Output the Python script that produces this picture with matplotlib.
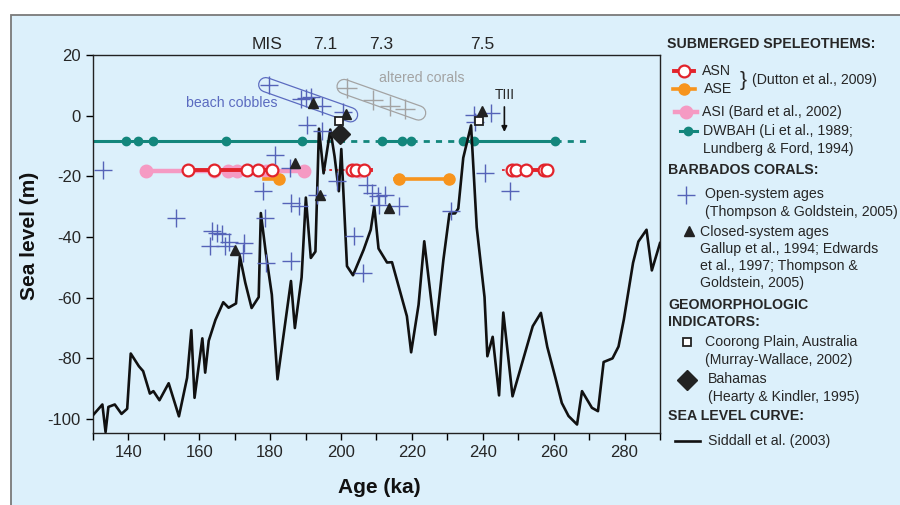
import matplotlib
matplotlib.use('Agg')
import matplotlib.pyplot as plt
from matplotlib.patches import Rectangle
from matplotlib.transforms import blended_transform_factory

plt.rcParams['font.family'] = ['Liberation Sans', 'DejaVu Sans']
plt.rcParams['axes.unicode_minus'] = False

# ── Daten ────────────────────────────────────────────────────
# Siddall et al. (2003) sea level curve
siddall_age = [130, 132.7, 133.6, 134.4, 136.2, 138.1, 139.7, 140.7, 143.0, 144.2,
               146.1, 147.1, 148.8, 151.4, 154.3, 156.6, 157.8, 158.7, 160.9, 161.7,
               162.7, 164.6, 166.8, 168.3, 170.4, 171.5, 173.0, 174.8, 176.8, 177.4,
               178.8, 180.5, 182.1, 185.9, 187.0, 188.9, 190.1, 191.5, 192.8, 193.8,
               195.1, 197.0, 198.2, 199.4, 200.1, 201.7, 203.4, 206.4, 208.4, 209.4,
               210.6, 213.0, 214.4, 218.6, 219.8, 221.9, 223.5, 226.6, 228.9, 230.6,
               232.2, 233.1, 234.5, 236.7, 238.3, 240.5, 241.3, 242.8, 244.6, 245.8,
               248.4, 254.1, 256.4, 258.2, 260.5, 262.3, 264.2, 266.6, 268.0, 270.8,
               272.5, 274.1, 276.6, 278.3, 279.8, 282.4, 283.9, 286.2, 287.7, 290.0]
siddall_sl = [-98.8, -95.2, -104.3, -96.0, -95.2, -98.3, -96.6, -78.4, -82.6, -84.2,
              -91.6, -90.8, -93.8, -88.2, -99.1, -86.4, -70.7, -93.0, -73.4, -84.7,
              -74.2, -67.3, -61.5, -63.3, -61.9, -46.4, -55.0, -63.4, -59.8, -32.1,
              -45.2, -59.0, -86.9, -54.5, -70.0, -53.3, -27.0, -46.9, -44.8, -4.3,
              -19.0, -4.6, -13.4, -24.9, -11.0, -49.6, -52.6, -44.2, -37.6, -29.9,
              -43.8, -48.4, -48.3, -66.1, -78.0, -62.3, -41.4, -72.2, -47.5, -32.3,
              -32.2, -30.6, -13.9, -3.2, -36.8, -59.8, -79.3, -72.9, -92.2, -64.9,
              -92.5, -69.4, -65.0, -76.2, -86.4, -94.7, -99.0, -101.8, -90.8, -96.3,
              -97.4, -81.2, -80.0, -76.1, -67.2, -48.5, -41.5, -37.6, -51.0, -42.0]

# DWBAH (Li et al., 1989; Lundberg & Ford, 1994)
dw_age = [139.3, 142.8, 147.0, 167.5, 188.9, 211.7, 217.3, 219.9, 234.3, 237.6, 260.4]
dw_sl = -8.5
dw_solid = [(130.0, 192.5), (211.7, 219.9), (234.3, 260.4)]
dw_dashed = [(192.5, 211.7), (219.9, 234.3), (260.4, 269.3)]

# ASI (Bard et al., 2002)
asi_age = [145.0, 164.3, 168.1, 170.6, 178.8, 189.5, 205.0]
asi_sl = -18.3
asi_span = (145.0, 189.5)

# ASN (Dutton et al., 2009)
asn_age = [156.9, 164.1, 173.5, 176.5, 180.5, 203.0, 204.2, 206.6,
           248.3, 249.5, 252.3, 257.2, 258.2]
asn_sl = -18.0
asn_solid = [(156.9, 180.5), (202.5, 208.4), (247.5, 259.6)]
asn_dotted = [(194.8, 202.5), (245.4, 247.5)]

# ASE (Dutton et al., 2009)
ase_age = [182.5, 216.3, 230.5]
ase_sl = -20.9
ase_spans = [(178.4, 183.0), (215.2, 231.6)]

# Barbados corals, open-system ages
open_age = [133.0, 153.4, 163.6, 165.0, 166.4, 163.0, 167.3, 168.4, 172.6, 172.3,
            178.7, 178.1, 181.5, 178.8, 186.0, 186.0, 188.3, 185.5, 190.3, 194.7,
            179.8, 188.7, 190.1, 191.5, 194.6, 200.6, 193.3, 199.0, 203.6, 206.1,
            207.4, 208.8, 210.5, 212.3, 210.6, 216.3, 231.1, 237.6, 237.8, 242.3,
            240.6, 247.6]
open_sl = [-17.8, -33.8, -38.0, -38.7, -39.0, -42.9, -42.8, -41.8, -42.0, -45.4,
           -33.7, -24.8, -12.9, -48.6, -48.0, -28.9, -29.8, -17.2, -3.0, -4.9,
           10.2, 5.5, 5.8, 6.2, 3.3, 1.1, -26.0, -21.6, -39.8, -51.9,
           -22.7, -25.5, -26.5, -26.0, -29.3, -29.9, -31.5, 0.3, -2.0, 0.9,
           -18.8, -24.9]

# altered corals
alt_age = [201.7, 209.1, 213.8, 218.0]
alt_sl = [9.1, 5.3, 3.1, 2.3]

# closed-system ages
closed_age = [170.0, 187.0, 192.0, 194.1, 201.3, 213.5, 239.7]
closed_sl = [-44.3, -15.5, 4.3, -26.3, 0.5, -30.5, 1.6]

# Coorong Plain / Bahamas
coorong_age = [199.4, 239.0]
coorong_sl = [-1.9, -1.7]
bahamas_age = [199.7]
bahamas_sl = [-6.0]

# MIS labels
mis_labels = ['7.1', '7.3', '7.5']
mis_ages = [195.6, 211.3, 239.9]

# Gruppen-Rahmen (Enden: Alter, Meeresspiegel)
cobbles_ends = ([178.8, 202.7], [10.2, 0.3])
altered_ends = ([200.9, 221.9], [9.6, 0.9])

termination_age = 246.1

# ── Farben ───────────────────────────────────────────────────
BG = '#dcf0fb'
TEAL = '#13867c'
RED = '#e2232b'
ORANGE = '#f7941d'
PINK = '#f59ac3'
BLUE = '#5563b8'
GREY = '#a3a3a3'
TXT = '#262626'

# ── Plot ─────────────────────────────────────────────────────
fig = plt.figure(figsize=(9, 5.05), dpi=100)
fig.patch.set_facecolor('white')
fig.add_artist(Rectangle((11 / 900, -0.05), 1.0, 1 - 15 / 505 + 0.05,
                         transform=fig.transFigure, facecolor=BG,
                         edgecolor='#7a7a7a', lw=1.3, zorder=0))

ax = fig.add_axes([92.8 / 900, 1 - 432.7 / 505, 567.2 / 900, 377.7 / 505])
ax.set_facecolor(BG)
ax.set_xlim(130, 290)
ax.set_ylim(-104.5, 20)


def stadium(ends, color):
    ax.plot(ends[0], ends[1], color=color, lw=11.2, solid_capstyle='round', zorder=1)
    ax.plot(ends[0], ends[1], color=BG, lw=9.4, solid_capstyle='round', zorder=1.1)


stadium(cobbles_ends, '#5b6bc0')
stadium(altered_ends, GREY)

# DWBAH
for a0, a1 in dw_solid:
    ax.plot([a0, a1], [dw_sl, dw_sl], color=TEAL, lw=2.2, zorder=2)
for a0, a1 in dw_dashed:
    ax.plot([a0, a1], [dw_sl, dw_sl], color=TEAL, lw=2.0, ls=(0, (2.2, 2.2)), zorder=2)
ax.plot(dw_age, [dw_sl] * len(dw_age), 'o', color=TEAL, ms=6, zorder=2.1)

# ASI
ax.plot(asi_span, [asi_sl, asi_sl], color=PINK, lw=3.2, zorder=2)
ax.plot(asi_age, [asi_sl] * len(asi_age), 'o', color=PINK, ms=9, zorder=2.1)

# ASE
for a0, a1 in ase_spans:
    ax.plot([a0, a1], [ase_sl, ase_sl], color=ORANGE, lw=2.6, zorder=2.2)
ax.plot(ase_age, [ase_sl] * len(ase_age), 'o', color=ORANGE, ms=8, zorder=2.3)

# ASN
for a0, a1 in asn_solid:
    ax.plot([a0, a1], [asn_sl, asn_sl], color=RED, lw=2.8, zorder=2.4)
for a0, a1 in asn_dotted:
    ax.plot([a0, a1], [asn_sl, asn_sl], color=RED, lw=1.3, ls=(0, (1.5, 2.0)), zorder=2.4)
ax.plot(asn_age, [asn_sl] * len(asn_age), 'o', mfc='white', mec=RED, mew=1.6,
        ms=8.5, zorder=2.5)

# Siddall curve
ax.plot(siddall_age, siddall_sl, color='#111111', lw=1.9, zorder=3)

# corals
ax.plot(open_age, open_sl, '+', color=BLUE, ms=12.5, mew=1.0, zorder=4)
ax.plot(alt_age, alt_sl, '+', color=GREY, ms=14, mew=1.0, zorder=4)
ax.plot(closed_age, closed_sl, '^', color='#222222', ms=7, zorder=5)
ax.plot(coorong_age, coorong_sl, 's', mfc='white', mec='#222222', mew=1.3, ms=6, zorder=5)
ax.plot(bahamas_age, bahamas_sl, 'D', color='#222222', ms=10, zorder=5)

# Beschriftungen im Plot
ax.text(169.2, 4.2, 'beach cobbles', color='#5b6bc0', fontsize=10.2,
        ha='center', va='center')
ax.text(222.8, 12.4, 'altered corals', color=GREY, fontsize=10.2,
        ha='center', va='center')
ax.text(termination_age, 6.8, 'TIII', color=TXT, fontsize=10, ha='center', va='center')
ax.annotate('', xy=(termination_age, -6.3), xytext=(termination_age, 3.8),
            arrowprops=dict(arrowstyle='-|>', color='#111111', lw=1.2, mutation_scale=8))

trans = blended_transform_factory(ax.transData, ax.transAxes)
ax.text(179.2, 1.028, 'MIS', transform=trans, fontsize=12.5, color=TXT,
        ha='center', va='center')
for lab, age in zip(mis_labels, mis_ages):
    ax.text(age, 1.028, lab, transform=trans, fontsize=12.5, color=TXT,
            ha='center', va='center')

# Achsen
ax.set_xticks(range(140, 281, 20))
ax.set_xticks(range(130, 291, 10), minor=True)
ax.set_yticks(range(-100, 21, 20))
ax.tick_params(which='both', direction='out', length=5, width=1,
               labelsize=12, labelcolor=TXT)
for s in ax.spines.values():
    s.set_linewidth(1.0)
    s.set_color('#222222')

ax.set_ylabel('Sea level (m)', fontsize=15, fontweight='bold', color='#111111')
ax.yaxis.set_label_coords(-0.095, 0.52)
ax.set_xlabel('Age (ka)', fontsize=15, fontweight='bold', color='#111111')
ax.xaxis.set_label_coords(0.505, -0.144)
ax.xaxis.label.set_va('center')

# ── Legende (Pixelkoordinaten) ───────────────────────────────
lg = fig.add_axes([0, 0, 1, 1], zorder=10)
lg.set_xlim(0, 900)
lg.set_ylim(505, 0)
lg.axis('off')
lg.patch.set_alpha(0)

FS = 10.2


def txt(x, y, s, bold=False, size=FS):
    lg.text(x, y, s, fontsize=size, color=TXT, ha='left', va='center',
            fontweight='bold' if bold else 'normal')


txt(667, 44, 'SUBMERGED SPELEOTHEMS:', bold=True)
lg.plot([674, 694], [71, 71], color=RED, lw=2.8)
lg.plot([684], [71], 'o', mfc='white', mec=RED, mew=1.6, ms=8.5)
txt(702, 71, 'ASN')
lg.plot([673, 695], [89, 89], color=ORANGE, lw=2.6)
lg.plot([684], [89], 'o', color=ORANGE, ms=8)
txt(704, 89, 'ASE')
lg.text(740, 80, '}', fontsize=15, color=TXT, ha='left', va='center')
txt(752, 80, '(Dutton et al., 2009)')
lg.plot([675, 697], [112, 112], color=PINK, lw=3.2)
lg.plot([686], [112], 'o', color=PINK, ms=9)
txt(702, 112, 'ASI (Bard et al., 2002)')
lg.plot([680, 697], [131, 131], color=TEAL, lw=2.2)
lg.plot([688], [131], 'o', color=TEAL, ms=6)
txt(703, 131, 'DWBAH (Li et al., 1989;')
txt(703, 149, 'Lundberg & Ford, 1994)')

txt(668, 170, 'BARBADOS CORALS:', bold=True)
lg.plot([686], [195], '+', color=BLUE, ms=13, mew=1.0)
txt(705, 194, 'Open-system ages')
txt(705, 212, '(Thompson & Goldstein, 2005)')
lg.plot([689], [231], '^', color='#222222', ms=7)
txt(700, 232, 'Closed-system ages')
txt(700, 249, 'Gallup et al., 1994; Edwards')
txt(700, 266, 'et al., 1997; Thompson &')
txt(700, 283, 'Goldstein, 2005)')

txt(668, 305, 'GEOMORPHOLOGIC', bold=True)
txt(668, 322, 'INDICATORS:', bold=True)
lg.plot([687], [342], 's', mfc='white', mec='#222222', mew=1.3, ms=6)
txt(705, 342, 'Coorong Plain, Australia')
txt(705, 360, '(Murray-Wallace, 2002)')
lg.plot([687], [380], 'D', color='#222222', ms=10)
txt(708, 379, 'Bahamas')
txt(708, 397, '(Hearty & Kindler, 1995)')

txt(668, 416, 'SEA LEVEL CURVE:', bold=True)
lg.plot([675, 700], [441, 441], color='#111111', lw=1.9)
txt(708, 441, 'Siddall et al. (2003)')

fig.savefig('out.png', dpi=100, facecolor=fig.get_facecolor())
